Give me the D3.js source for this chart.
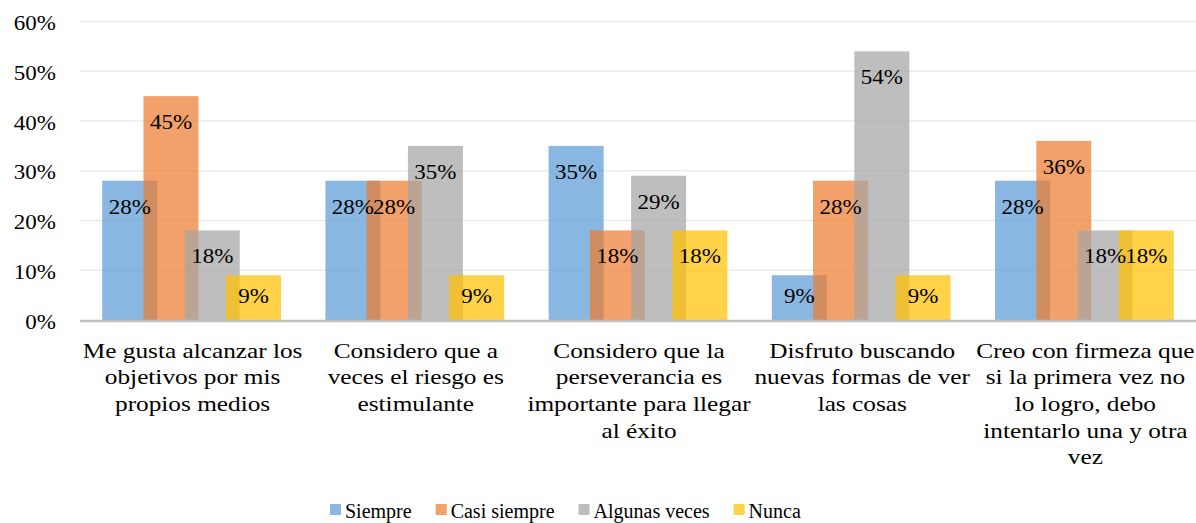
<!DOCTYPE html>
<html><head><meta charset="utf-8">
<script src="https://cdn.jsdelivr.net/npm/d3@7"></script>
</head>
<body style="margin:0;padding:0;background:#fff;"><svg id="chart" width="1196" height="523" font-family="Liberation Serif, Times New Roman, Times, serif" style="display:block;"></svg>
<script>
const categories = [
  ["Me gusta alcanzar los","objetivos por mis","propios medios"],
  ["Considero que a","veces el riesgo es","estimulante"],
  ["Considero que la","perseverancia es","importante para llegar","al éxito"],
  ["Disfruto buscando","nuevas formas de ver","las cosas"],
  ["Creo con firmeza que","si la primera vez no","lo logro, debo","intentarlo una y otra","vez"]
];
const seriesNames = ["Siempre","Casi siempre","Algunas veces","Nunca"];
const siempre      = [28, 28, 35, 9, 28];
const casiSiempre  = [45, 28, 18, 28, 36];
const algunasVeces = [18, 35, 29, 54, 18];
const nunca        = [9, 9, 18, 9, 18];
const yTicks = [0,10,20,30,40,50,60];
const colors = ["#5B9BD5","#ED7D31","#A5A5A5","#FFC000"];

(function(){
const FONT = "Liberation Serif, Times New Roman, Times, serif";
const SX = 1.15;
const series = [siempre, casiSiempre, algunasVeces, nunca];
const svg = d3.select("#chart");
const mLeft = 80, mRight = 1196, mTop = 21.5, mBottom = 320;

const x = d3.scaleBand().domain(d3.range(categories.length)).range([mLeft, mRight]).padding(0);
const y = d3.scaleLinear().domain([0,60]).range([mBottom, mTop]);

function stxt(sel, size){
  return sel.attr("font-family", FONT).attr("font-size", size)
    .style("font-family", FONT).style("font-size", size+"px").attr("fill","#000");
}

svg.append("g").selectAll("line").data(yTicks.filter(d=>d>0)).join("line")
  .attr("x1", mLeft).attr("x2", mRight)
  .attr("y1", d=>y(d)).attr("y2", d=>y(d))
  .attr("stroke","#ebebeb").attr("stroke-width",1.5);

const yAxis = d3.axisLeft(y).tickValues(yTicks).tickFormat(d=>d+"%").tickSize(0).tickPadding(0);
const ya = svg.append("g").attr("transform",`translate(${mLeft},0)`).call(yAxis);
ya.select(".domain").remove();
ya.attr("font-family", FONT).attr("font-size", 20);
ya.selectAll(".tick text").each(function(){
  const s = d3.select(this);
  s.attr("x",0).attr("dy",null).attr("y",8)
    .attr("text-anchor","end")
    .attr("transform",`translate(-24,0) scale(${SX},1)`);
  stxt(s, 20);
});

const bw = x.bandwidth();
const barW = bw*0.2464;
const step = barW*0.75;

const g = svg.append("g");
series.forEach((vals, si) => {
  const off = (si-1.5)*step - barW/2;
  g.append("g").selectAll("rect").data(vals).join("rect")
    .attr("x",(d,i)=>x(i)+bw/2+off)
    .attr("width",barW)
    .attr("y",d=>y(d))
    .attr("height",d=>mBottom-y(d))
    .attr("fill",colors[si])
    .attr("fill-opacity",0.72);
});
series.forEach((vals, si) => {
  const off = (si-1.5)*step;
  const t = g.append("g").selectAll("text").data(vals).join("text")
    .attr("text-anchor","middle")
    .attr("transform",(d,i)=>{
      const h = mBottom-y(d);
      const by = y(d)+Math.min(33, h*0.62);
      return `translate(${x(i)+bw/2+off},${by}) scale(${SX},1)`;
    })
    .text(d=>d+"%");
  stxt(t, 20);
});

svg.append("line").attr("x1",mLeft).attr("x2",mRight).attr("y1",mBottom+1).attr("y2",mBottom+1)
  .attr("stroke","#bfbfbf").attr("stroke-width",2.5);

const cl = svg.append("g");
categories.forEach((lines,i)=>{
  lines.forEach((ln,j)=>{
    const t = cl.append("text").attr("text-anchor","middle")
      .attr("transform",`translate(${x(i)+bw/2+1},${357.5+j*26.7}) scale(${SX},1)`)
      .text(ln);
    stxt(t, 22);
  });
});

const lg = svg.append("g");
let lx = 330;
seriesNames.forEach((n,i)=>{
  lg.append("rect").attr("x",lx).attr("y",504).attr("width",11).attr("height",11)
    .attr("fill",colors[i]).attr("fill-opacity",0.72);
  const t = lg.append("text").attr("x",lx+15).attr("y",518).text(n);
  stxt(t, 20);
  lx += 15 + t.node().getComputedTextLength() + 24;
});
})();
</script></body></html>
